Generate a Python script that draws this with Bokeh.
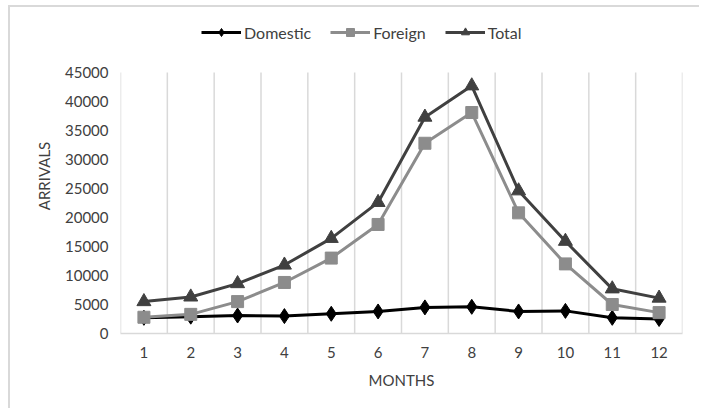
from bokeh.plotting import figure
from bokeh.models import FixedTicker, Legend, LegendItem, Range1d
from bokeh.embed import file_html
from bokeh.resources import INLINE

# Monthly arrivals
months = list(range(1, 13))
month_labels = [str(m) for m in months]
domestic = [2700, 2900, 3100, 3000, 3400, 3800, 4500, 4600, 3800, 3900, 2700, 2500]
foreign = [2800, 3300, 5500, 8800, 13000, 18800, 32800, 38100, 20800, 12000, 5000, 3600]
total = [5500, 6300, 8600, 11800, 16400, 22600, 37300, 42700, 24600, 15900, 7700, 6100]
y_ticks = list(range(0, 45001, 5000))

FONT = "Lato"
TEXT = "#404040"
GRID = "#d9d9d9"
COLORS = {"Domestic": "#000000", "Foreign": "#8c8c8c", "Total": "#404040"}
MARKERS = {"Domestic": ("diamond", 15), "Foreign": ("square", 12), "Total": ("triangle", 14)}

y_top = y_ticks[-1]
# headroom above the value axis holds the legend row
p = figure(
    width=691, height=403,
    output_backend="svg", toolbar_location=None,
    x_range=Range1d(0.5, 12.5), y_range=Range1d(0, 54310),
    min_border_left=110, min_border_right=19,
    min_border_top=11, min_border_bottom=77,
)
p.margin = (5, 0, 0, 8)
p.styles = {"border-left": "2px solid #d9d9d9", "border-top": "2px solid #d9d9d9"}
p.outline_line_color = None
p.background_fill_color = "white"
p.border_fill_color = "white"
p.grid.grid_line_color = None

# vertical gridlines between month categories, spanning the value axis only
bounds = [m + 0.5 for m in range(0, 13)]
p.segment(x0=bounds, y0=[0] * len(bounds), x1=bounds, y1=[y_top] * len(bounds),
          line_color=GRID, line_width=1.5)

p.xaxis.ticker = FixedTicker(ticks=months)
p.xaxis.major_label_overrides = {m: l for m, l in zip(months, month_labels)}
p.xaxis.axis_line_color = GRID
p.xaxis.axis_line_width = 1.5
p.xaxis.major_tick_line_color = None
p.xaxis.minor_tick_line_color = None
p.xaxis.major_label_standoff = 7
p.xaxis.axis_label = "MONTHS"
p.xaxis.axis_label_standoff = 10

p.yaxis.ticker = FixedTicker(ticks=y_ticks)
p.yaxis.bounds = (0, y_top)
p.yaxis.axis_line_color = None
p.yaxis.major_tick_line_color = None
p.yaxis.minor_tick_line_color = None
p.yaxis.major_label_standoff = 6
p.yaxis.axis_label = "ARRIVALS"
p.yaxis.axis_label_standoff = 9

for ax in (p.xaxis[0], p.yaxis[0]):
    ax.major_label_text_font = FONT
    ax.major_label_text_font_size = "15px"
    ax.major_label_text_color = TEXT
    ax.axis_label_text_font = FONT
    ax.axis_label_text_font_size = "15px"
    ax.axis_label_text_font_style = "normal"
    ax.axis_label_text_color = TEXT

items = []
for name, values in [("Domestic", domestic), ("Foreign", foreign), ("Total", total)]:
    marker, size = MARKERS[name]
    ln = p.line(months, values, line_color=COLORS[name], line_width=3)
    pt = p.scatter(months, values, marker=marker, size=size,
                   fill_color=COLORS[name], line_color=COLORS[name])
    items.append(LegendItem(label=name, renderers=[ln, pt]))

legend = Legend(
    items=items,
    orientation="horizontal",
    location=(81, 291),
    border_line_color=None,
    background_fill_alpha=0,
    label_text_font=FONT,
    label_text_font_size="16px",
    label_text_color=TEXT,
    glyph_width=40,
    glyph_height=20,
    label_standoff=3,
    spacing=19,
    margin=0,
    padding=0,
)
p.add_layout(legend, "center")

open("out.html", "w").write(file_html(p, INLINE))
